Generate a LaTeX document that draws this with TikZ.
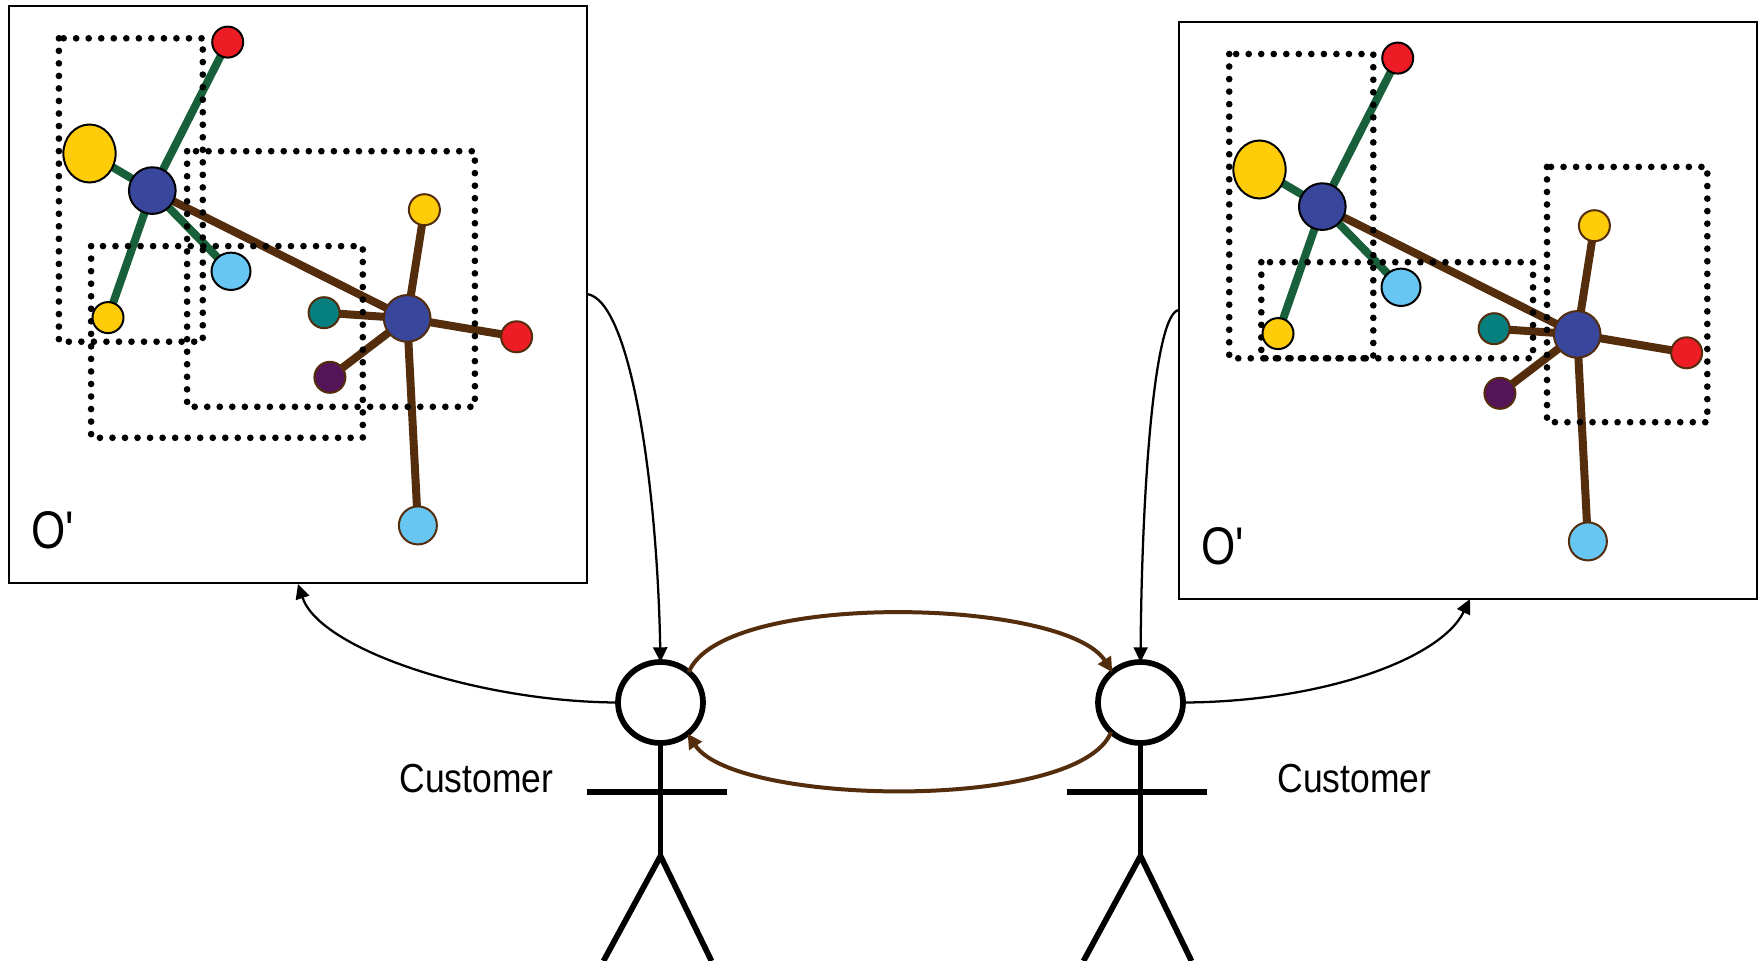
\documentclass[tikz,border=0pt]{standalone}
\usepackage{fontspec}
\usepackage{graphicx}
\setmainfont{Liberation Sans}
\newfontfamily\plainsans{Liberation Sans}
\usetikzlibrary{shapes.geometric,arrows.meta}
\definecolor{cyellow}{HTML}{FFCC0A}
\definecolor{cblue}{HTML}{38469C}
\definecolor{cred}{HTML}{EE1C25}
\definecolor{clight}{HTML}{67C6F2}
\definecolor{cteal}{HTML}{067F7F}
\definecolor{cpurple}{HTML}{541558}
\definecolor{cgreen}{HTML}{17603A}
\definecolor{cbrown}{HTML}{542D0D}
\pgfdeclarelayer{panels}
\pgfdeclarelayer{lines}
\pgfdeclarelayer{dots}
\pgfsetlayers{panels,lines,dots,main}
\tikzset{
  panelbox/.style={draw=black,line width=1.5pt,fill=white,minimum width=433.5pt,minimum height=432.75pt,inner sep=0pt,outer sep=0pt},
  ball/.style={ellipse,draw=#1,line width=1.5pt,inner sep=0pt,outer sep=0pt},
  small/.style={minimum width=23.25pt,minimum height=23.25pt},
  hub/.style={minimum width=35pt,minimum height=35pt},
  greenedge/.style={draw=cgreen,line width=6pt},
  brownedge/.style={draw=cbrown,line width=6pt},
  dotbox/.style={draw=black,line width=5pt,line cap=round,dash pattern=on 0pt off 9.4pt},
  headnode/.style={ellipse,draw=black,line width=4.3pt,fill=white,minimum width=63.75pt,minimum height=60.75pt,inner sep=0pt,outer sep=0pt},
  stick/.style={draw=black,line width=4.3pt},
  blackarrow/.style={draw=black,line width=1.7pt,-{Triangle[length=11pt,width=10.5pt]}},
  brownarrow/.style={draw=cbrown,line width=3pt,-{Triangle[length=11pt,width=11pt]}},
  biglabel/.style={inner sep=0pt,font=\plainsans\fontsize{39.75pt}{42pt}\selectfont},
  custlabel/.style={inner sep=0pt,font=\fontsize{30.4pt}{32pt}\selectfont},
}
\newcommand{\molecule}{%
  \begin{pgfonlayer}{panels}
    \node[panelbox,anchor=north west] (box) at (9,6) {};
  \end{pgfonlayer}
  \node[ball=black,fill=cyellow,minimum width=39.2pt,minimum height=43.5pt] (bigy) at (89.5,153.5) {};
  \node[ball=black,fill=cred,small] (redA) at (227.7,42.1) {};
  \node[ball=black,fill=cblue,hub] (hubA) at (152.3,190.6) {};
  \node[ball=black,fill=clight,minimum width=29.25pt,minimum height=28pt] (lightA) at (231,271.3) {};
  \node[ball=black,fill=cyellow,small] (yelA) at (108,317.6) {};
  \node[ball=cbrown,fill=cblue,hub] (hubB) at (407.2,318.4) {};
  \node[ball=cbrown,fill=cyellow,small] (yelB) at (424.4,209.7) {};
  \node[ball=cbrown,fill=cteal,small] (tealB) at (324.1,312.7) {};
  \node[ball=cbrown,fill=cred,small] (redB) at (516.6,336.8) {};
  \node[ball=cbrown,fill=cpurple,small] (purpB) at (329.9,377.3) {};
  \node[ball=cbrown,fill=clight,minimum width=28.5pt,minimum height=28.5pt] (lightB) at (417.9,525.4) {};
  \node[biglabel] (olabel) at (52.5,530) {\scalebox{.83}[1]{O'}};
  \begin{pgfonlayer}{lines}
    \draw[greenedge] (hubA.center) -- (redA.center);
    \draw[greenedge] (hubA.center) -- (bigy.center);
    \draw[greenedge] (hubA.center) -- (lightA.center);
    \draw[greenedge] (hubA.center) -- (yelA.center);
    \draw[brownedge] (hubA.center) -- (hubB.center);
    \draw[brownedge] (hubB.center) -- (yelB.center);
    \draw[brownedge] (hubB.center) -- (tealB.center);
    \draw[brownedge] (hubB.center) -- (redB.center);
    \draw[brownedge] (hubB.center) -- (purpB.center);
    \draw[brownedge] (hubB.center) -- (lightB.center);
  \end{pgfonlayer}
}
\newcommand{\stickfigure}{%
  \node[headnode] (head) at (0,0) {};
  \coordinate (hip) at (0,153.5);
  \coordinate (armL) at (-73.5,89.5);
  \coordinate (armR) at (66,89.5);
  \coordinate (legL) at (-57,258.5);
  \coordinate (legR) at (51,258.5);
  \draw[stick] (head.south) -- (hip);
  \draw[draw=black,line width=4.8pt] (armL) -- (armR);
  \begin{scope}
    \clip (-120,100) rectangle (120,258.5);
    \draw[stick] (legL) -- (hip) -- (legR);
  \end{scope}
}
\begin{document}
\begin{tikzpicture}[x=0.75pt,y=-0.75pt]
\useasboundingbox (0,0) rectangle (1762,960);

\begin{scope}[name prefix=L-]
  \molecule
\end{scope}
\begin{scope}[shift={(1170,16)},name prefix=R-]
  \molecule
\end{scope}

\begin{pgfonlayer}{dots}
  \draw[dotbox] (58.9,38.3) rectangle (202.8,341.7);
  \draw[dotbox] (187.1,151.2) rectangle (474.9,406.8);
  \draw[dotbox] (91.1,246.1) rectangle (362.8,437.8);
  \draw[dotbox] (1229.2,54) rectangle (1373.3,358.3);
  \draw[dotbox] (1261.3,262.2) rectangle (1533,358.3);
  \draw[dotbox] (1547,166.9) rectangle (1707.3,422.2);
\end{pgfonlayer}

\begin{scope}[shift={(660.5,702.5)},name prefix=A-]
  \stickfigure
\end{scope}
\begin{scope}[shift={(1140.5,702.5)},name prefix=B-]
  \stickfigure
\end{scope}

\node[custlabel] (custA) at (476.5,779) {\scalebox{.875}[1]{Customer}};
\node[custlabel] (custB) at (1354.5,779) {\scalebox{.875}[1]{Customer}};

\coordinate (outL) at (587,294);
\coordinate (inL) at (298,584);
\coordinate (outR) at (1179,310);
\coordinate (inR) at (1470,599);

\draw[blackarrow] (outL) .. controls (630,300) and (657,480) .. (A-head.north);
\draw[blackarrow] (A-head.west) .. controls (480,702) and (320,650) .. (inL);
\draw[blackarrow] (outR) .. controls (1155,312) and (1142,480) .. (B-head.north);
\draw[blackarrow] (B-head.east) .. controls (1320,702) and (1440,660) .. (inR);

\draw[brownarrow] (A-head.47) .. controls (722,590) and (1065,598) .. (B-head.133);
\draw[brownarrow] (B-head.225) .. controls (1080,812) and (735,806) .. (A-head.-49);
\end{tikzpicture}
\end{document}
